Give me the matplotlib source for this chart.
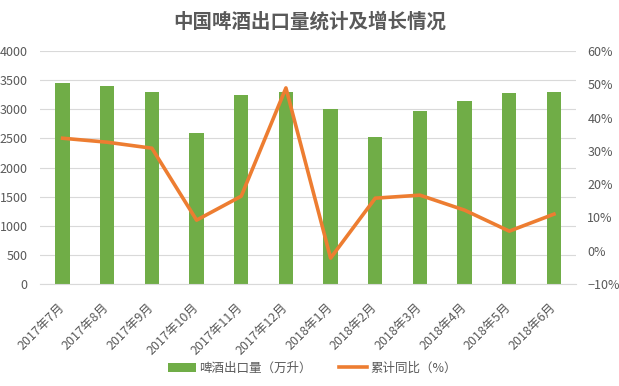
import matplotlib
matplotlib.use("Agg")
import matplotlib.pyplot as plt
import matplotlib.transforms as mtransforms
from matplotlib.ticker import PercentFormatter

plt.rcParams['font.family'] = ['Noto Sans CJK SC', 'DejaVu Sans']

months = ["2017年7月", "2017年8月", "2017年9月", "2017年10月", "2017年11月", "2017年12月",
          "2018年1月", "2018年2月", "2018年3月", "2018年4月", "2018年5月", "2018年6月"]
export_vol = [3450, 3400, 3300, 2590, 3250, 3300, 3000, 2520, 2970, 3140, 3280, 3300]
yoy_pct = [33.8, 32.6, 30.8, 9.2, 16.4, 48.9, -2.2, 15.8, 16.7, 12.2, 5.9, 11.0]

green = "#70AD47"
orange = "#ED7D31"
gray = "#595959"

fig = plt.figure(figsize=(6.19, 3.86), dpi=100)
ax1 = fig.add_axes([0.065, 0.264, 0.866, 0.604])
x = list(range(len(months)))
bars = ax1.bar(x, export_vol, width=0.32, color=green, zorder=2)
ax1.set_ylim(0, 4000)
ax1.set_yticks(range(0, 4001, 500))
ax1.set_xlim(-0.5, len(months) - 0.5)
ax1.grid(axis="y", color="#D9D9D9", linewidth=0.8, zorder=0)
ax1.set_axisbelow(True)
ax1.set_xticks(x)
ax1.set_xticklabels(months, rotation=45, ha="right", rotation_mode="anchor")
ax1.tick_params(axis="both", length=0, labelsize=9, colors=gray)
ax1.tick_params(axis="x", pad=12)
ax1.tick_params(axis="y", pad=9)
# nudge rotated labels a bit to the left
shift = mtransforms.ScaledTranslation(-0.05, 0, fig.dpi_scale_trans)
for lab in ax1.get_xticklabels():
    lab.set_transform(lab.get_transform() + shift)
for s in ["top", "right", "left"]:
    ax1.spines[s].set_visible(False)
ax1.spines["bottom"].set_color("#D9D9D9")

ax2 = ax1.twinx()
line, = ax2.plot(x, yoy_pct, color=orange, linewidth=2.6, zorder=3)
ax2.set_ylim(-10, 60)
ax2.set_yticks(range(-10, 61, 10))
ax2.yaxis.set_major_formatter(PercentFormatter(decimals=0))
ax2.tick_params(axis="y", length=0, labelsize=9, colors=gray, pad=8)
for s in ["top", "right", "left", "bottom"]:
    ax2.spines[s].set_visible(False)

fig.text(0.5, 0.945, "中国啤酒出口量统计及增长情况", ha="center", va="center",
         fontsize=14, fontweight="bold", color=gray)

fig.legend([bars, line], ["啤酒出口量（万升）", "累计同比（%）"], loc="center",
           bbox_to_anchor=(0.505, 0.046), ncol=2, frameon=False, fontsize=9,
           labelcolor=gray, handlelength=2.2, columnspacing=2.2, handletextpad=0.3)

fig.savefig("out.png", dpi=100, facecolor="white")
